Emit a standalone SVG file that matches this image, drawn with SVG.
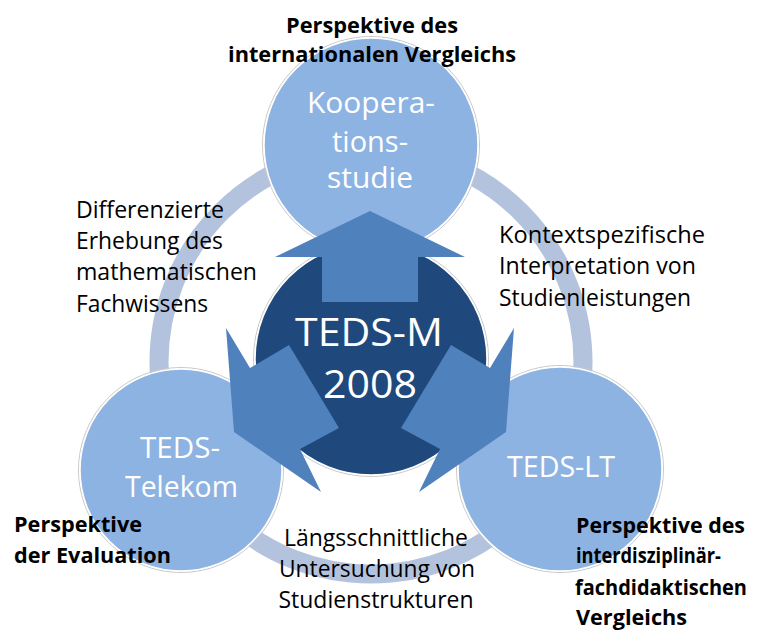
<svg xmlns="http://www.w3.org/2000/svg" width="761" height="633" viewBox="0 0 761 633">
<defs>
<style>
.bg{fill:#ffffff}
.ring{fill:none;stroke:#b4c3dd;stroke-width:19}
.light{fill:#8db3e2;stroke:#ffffff;stroke-width:1.5}
.dark{fill:#1f497d;stroke:#ffffff;stroke-width:1.5}
.halo{fill:none;stroke:#c8c8c8;stroke-width:1}
.arrow{fill:#4f81bd}
.ct{font-family:"Open Sans","Liberation Sans",sans-serif;fill:#ffffff;text-anchor:middle}
.lbl{font-family:"Open Sans","Liberation Sans",sans-serif;fill:#000000;font-size:24px}
.bold{font-family:"Open Sans","Liberation Sans",sans-serif;fill:#000000;font-size:22px;font-weight:bold}
</style>
</defs>
<rect class="bg" x="0" y="0" width="761" height="633"/>
<g id="connectors">
<circle class="ring" cx="371" cy="362" r="212"/>
</g>
<g id="node-kooperationsstudie">
<circle class="halo" cx="371" cy="145" r="108.5"/>
<circle class="light" cx="371" cy="145" r="107"/>
<text class="ct" font-size="29" x="371" y="113" textLength="128" lengthAdjust="spacingAndGlyphs">Koopera-</text>
<text class="ct" font-size="29" x="370" y="152" textLength="76" lengthAdjust="spacingAndGlyphs">tions-</text>
<text class="ct" font-size="29" x="370" y="188" textLength="86" lengthAdjust="spacingAndGlyphs">studie</text>
</g>
<g id="node-teds-telekom">
<circle class="halo" cx="181" cy="470" r="102.5"/>
<circle class="light" cx="181" cy="470" r="101"/>
<text class="ct" font-size="30" x="180" y="458" textLength="80" lengthAdjust="spacingAndGlyphs">TEDS-</text>
<text class="ct" font-size="30" x="181.5" y="497" textLength="113" lengthAdjust="spacingAndGlyphs">Telekom</text>
</g>
<g id="node-teds-lt">
<circle class="halo" cx="560" cy="469" r="103.5"/>
<circle class="light" cx="560" cy="469" r="102"/>
<text class="ct" font-size="29" x="561" y="477" textLength="108" lengthAdjust="spacingAndGlyphs">TEDS-LT</text>
</g>
<g id="node-teds-m">
<circle class="halo" cx="371" cy="359" r="117.5"/>
<circle class="dark" cx="371" cy="359" r="116"/>
</g>
<g id="arrows">
<polygon class="arrow" points="370,211 465,257 418,257 418,302 322,302 322,257 275,257"/>
<polygon class="arrow" points="226,328 250,368 289,345 339,428 300,449 321,492 234,432"/>
<polygon class="arrow" points="514,328 490,368 451,345 401,428 440,449 419,492 506,432"/>
</g>
<g id="node-teds-m-label">
<text class="ct" font-size="38" x="369" y="346" textLength="148" lengthAdjust="spacingAndGlyphs">TEDS-M</text>
<text class="ct" font-size="38" x="370" y="398" textLength="94" lengthAdjust="spacingAndGlyphs">2008</text>
</g>
<g id="label-international">
<text class="bold" text-anchor="middle" x="372" y="33" textLength="172" lengthAdjust="spacingAndGlyphs">Perspektive des</text>
<text class="bold" text-anchor="middle" x="372" y="62" textLength="288" lengthAdjust="spacingAndGlyphs">internationalen Vergleichs</text>
</g>
<g id="label-fachwissen">
<text class="lbl" x="76" y="218" textLength="148" lengthAdjust="spacingAndGlyphs">Differenzierte</text>
<text class="lbl" x="76" y="249" textLength="147" lengthAdjust="spacingAndGlyphs">Erhebung des</text>
<text class="lbl" x="76" y="280" textLength="181" lengthAdjust="spacingAndGlyphs">mathematischen</text>
<text class="lbl" x="76" y="312" textLength="132" lengthAdjust="spacingAndGlyphs">Fachwissens</text>
</g>
<g id="label-kontext">
<text class="lbl" x="499" y="243" textLength="206" lengthAdjust="spacingAndGlyphs">Kontextspezifische</text>
<text class="lbl" x="499" y="274" textLength="197" lengthAdjust="spacingAndGlyphs">Interpretation von</text>
<text class="lbl" x="499" y="306" textLength="192" lengthAdjust="spacingAndGlyphs">Studienleistungen</text>
</g>
<g id="label-laengsschnitt">
<text class="lbl" text-anchor="middle" x="376" y="546" textLength="184" lengthAdjust="spacingAndGlyphs">Längsschnittliche</text>
<text class="lbl" text-anchor="middle" x="377" y="577" textLength="196" lengthAdjust="spacingAndGlyphs">Untersuchung von</text>
<text class="lbl" text-anchor="middle" x="376" y="608" textLength="195" lengthAdjust="spacingAndGlyphs">Studienstrukturen</text>
</g>
<g id="label-evaluation">
<text class="bold" x="14" y="532" textLength="128" lengthAdjust="spacingAndGlyphs">Perspektive</text>
<text class="bold" x="14" y="563" textLength="157" lengthAdjust="spacingAndGlyphs">der Evaluation</text>
</g>
<g id="label-interdisziplinaer">
<text class="bold" x="576" y="533" textLength="169" lengthAdjust="spacingAndGlyphs">Perspektive des</text>
<text class="bold" x="576" y="563" textLength="145" lengthAdjust="spacingAndGlyphs">interdisziplinär-</text>
<text class="bold" font-size="20" x="575" y="595" textLength="172" lengthAdjust="spacingAndGlyphs">fachdidaktischen</text>
<text class="bold" x="576" y="625" textLength="111" lengthAdjust="spacingAndGlyphs">Vergleichs</text>
</g>
</svg>
